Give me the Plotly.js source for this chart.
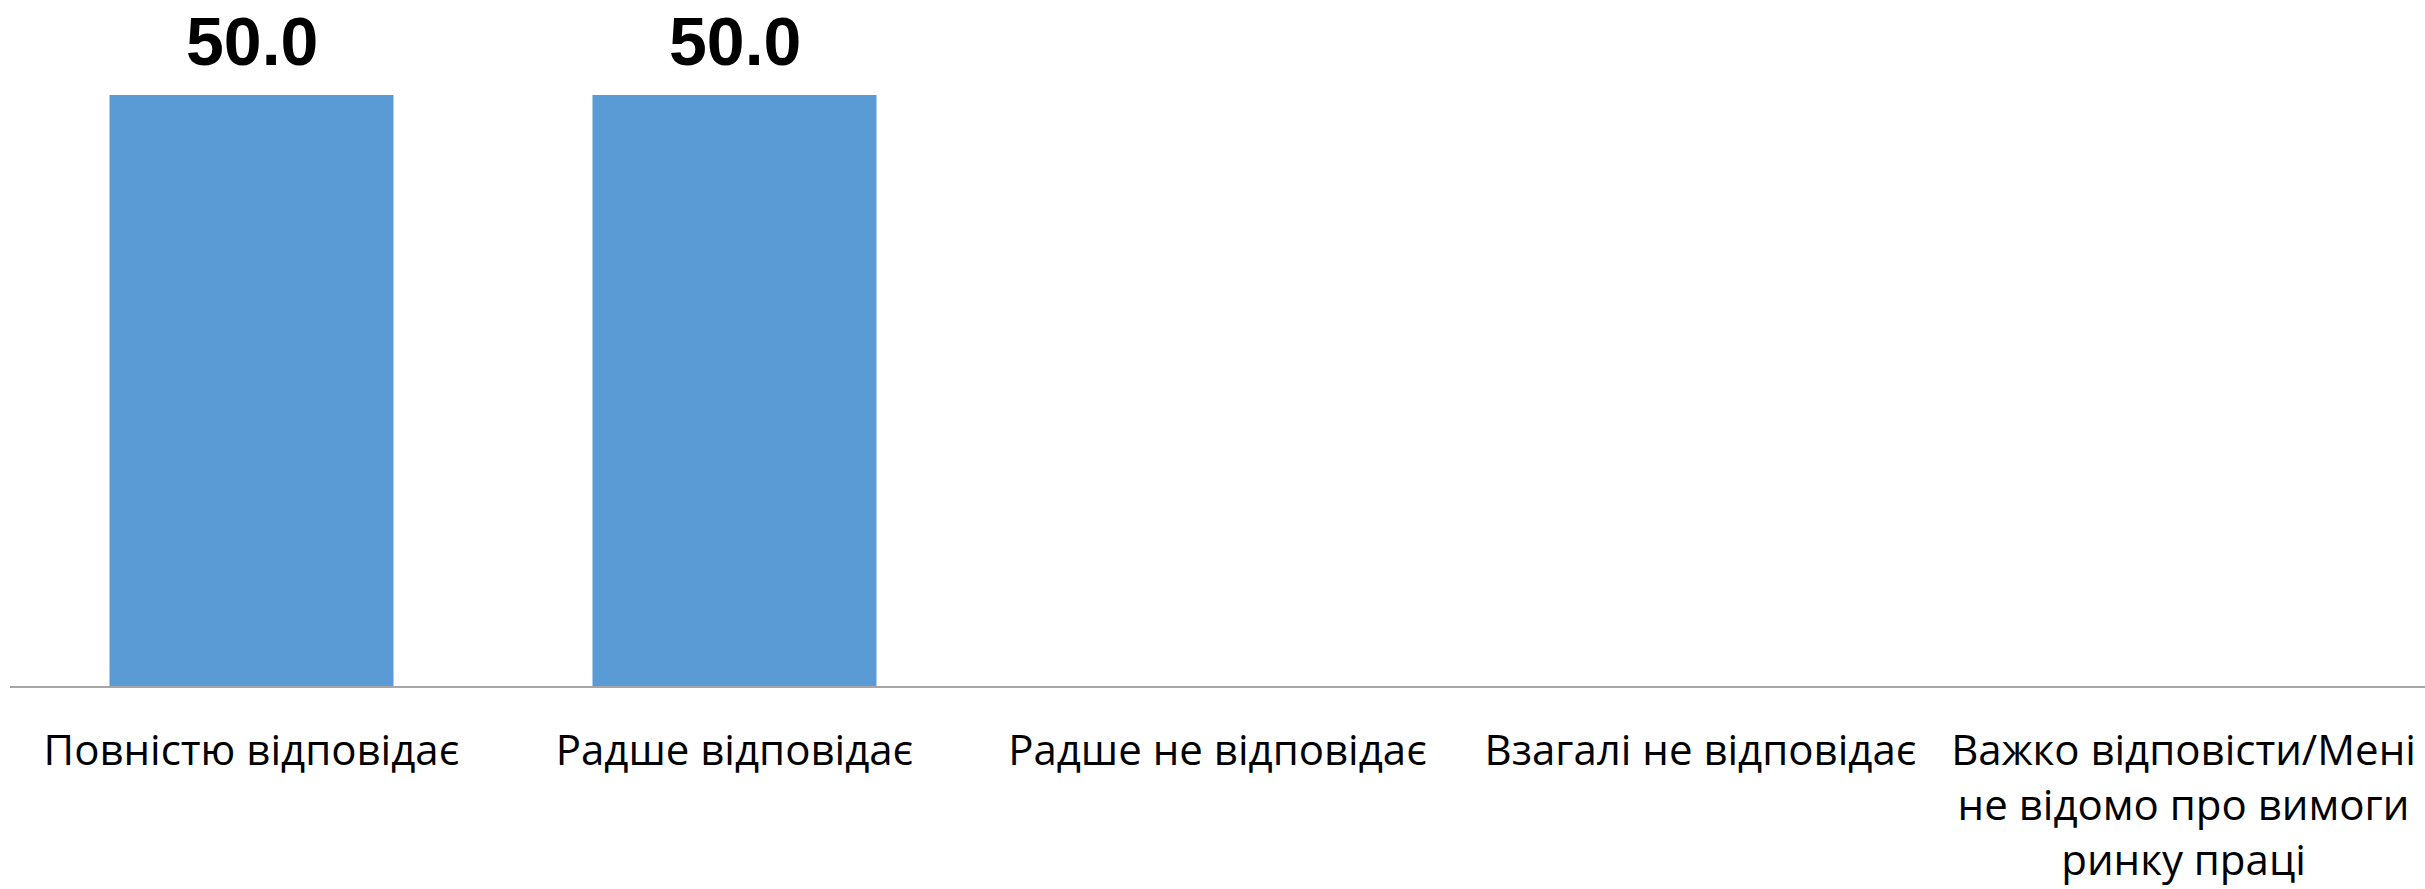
<!DOCTYPE html>
<html>
<head>
<meta charset="utf-8">
<script src="https://cdn.plot.ly/plotly-3.0.1.min.js"></script>
<style>html,body{margin:0;padding:0;background:#fff;}#chart{width:2425px;height:889px;}</style>
</head>
<body>
<div id="chart"></div>
<script>
const categories = [
  "Повністю відповідає",
  "Радше відповідає",
  "Радше не відповідає",
  "Взагалі не відповідає",
  "Важко відповісти/Мені<br>не відомо про вимоги<br>ринку праці"
];
const values = [50.0, 50.0, null, null, null];
const valueLabels = values.map(v => v == null ? "" : v.toFixed(1));

const trace = {
  type: "bar",
  x: categories,
  y: values,
  marker: {color: "#5B9BD5"},
  hoverinfo: "none"
};

const annotations = categories
  .map((c, i) => ({c, v: values[i], t: valueLabels[i]}))
  .filter(d => d.v != null)
  .map(d => ({
    x: d.c,
    y: d.v,
    xref: "x",
    yref: "y",
    text: "<b>" + d.t + "</b>",
    showarrow: false,
    yanchor: "bottom",
    yshift: 14,
    font: {family: "Liberation Sans, Arial, sans-serif", size: 68, color: "#000000"}
  }));

const layout = {
  width: 2425,
  height: 889,
  margin: {l: 10, r: 0, t: 95, b: 203, pad: 0},
  paper_bgcolor: "#ffffff",
  plot_bgcolor: "#ffffff",
  bargap: 0.412,
  showlegend: false,
  font: {family: "Open Sans", color: "#000000"},
  annotations: annotations,
  xaxis: {
    type: "category",
    showline: true,
    linecolor: "#a6a6a6",
    linewidth: 2,
    showgrid: false,
    zeroline: false,
    ticks: "",
    tickfont: {family: "Open Sans", size: 42, color: "#000000"},
    automargin: false,
    ticklabelstandoff: 27
  },
  yaxis: {
    visible: false,
    range: [0, 50],
    showgrid: false,
    zeroline: false
  }
};

Plotly.newPlot("chart", [trace], layout, {staticPlot: true, displayModeBar: false});
</script>
</body>
</html>
